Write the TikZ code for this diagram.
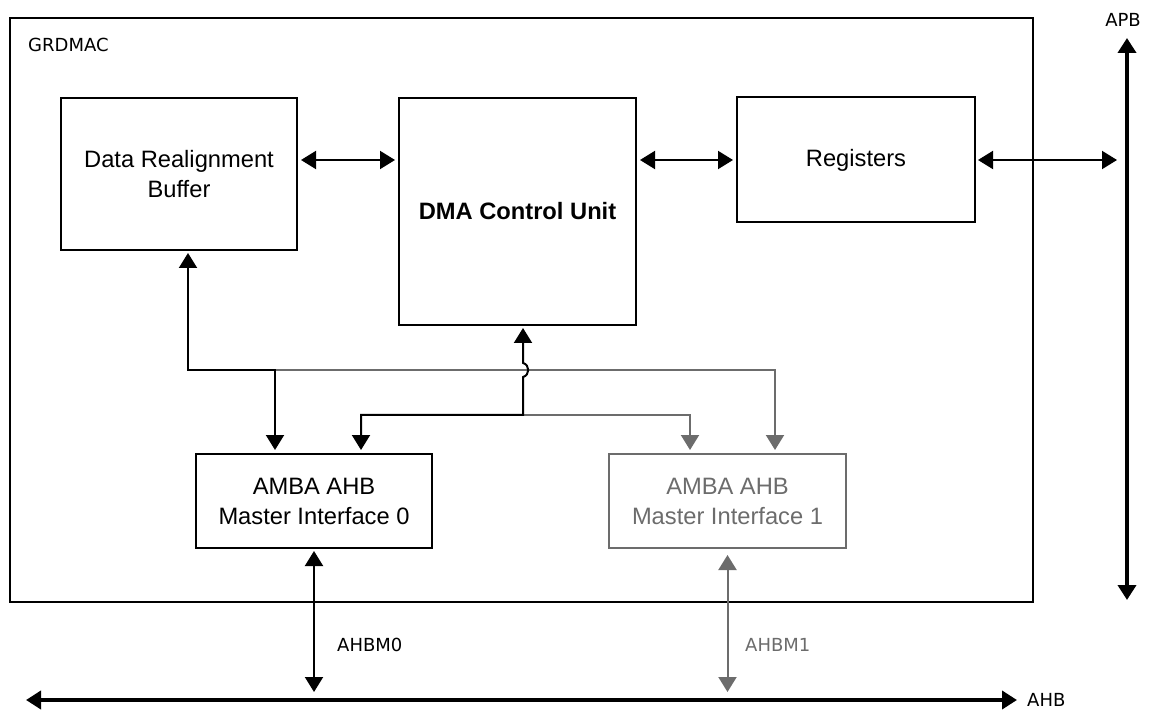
\documentclass[tikz,border=0pt]{standalone}
\usepackage{fontspec}
\setmainfont{Liberation Sans}
\newfontfamily\lblfont{DejaVu Sans}
\usetikzlibrary{arrows.meta}
\definecolor{dimgray}{RGB}{108,108,108}
\tikzset{
  tri/.tip={Triangle[length=15pt,width=18pt]},
  blk/.style={draw=black,line width=2pt,rectangle,align=center,
     font=\fontsize{23.7}{30}\selectfont,inner sep=0pt},
  gblk/.style={blk,draw=dimgray,text=dimgray},
  conn/.style={line width=2pt,draw=black},
  gconn/.style={line width=2pt,draw=dimgray},
  bus/.style={line width=4pt,draw=black},
  lbl/.style={font=\lblfont\fontsize{18}{22}\selectfont,inner sep=0pt}
}
\begin{document}
\begin{tikzpicture}[x=1pt,y=-1pt]
\useasboundingbox (0,0) rectangle (1152,711);
% outer frame
\node[blk,minimum width=1023pt,minimum height=584pt] (grdmac) at (521.5,310) {};
\node[lbl,anchor=west] (grdmaclbl) at (28,45) {GRDMAC};
% blocks
\node[blk,minimum width=236pt,minimum height=152pt] (drb) at (179,174) {Data Realignment\\Buffer};
\node[blk,minimum width=237pt,minimum height=227pt,font=\fontsize{23.7}{30}\selectfont\bfseries] (dma) at (517.5,211.5) {DMA Control Unit};
\node[blk,minimum width=238pt,minimum height=125pt] (reg) at (856,160) {Registers};
\node[blk,minimum width=236pt,minimum height=94pt] (mi0) at (314,501) {AMBA AHB\\Master Interface 0};
\node[gblk,minimum width=237pt,minimum height=94pt] (mi1) at (727.5,501) {AMBA AHB\\Master Interface 1};
% bus coordinates
\coordinate (apbtop) at (1127,38);
\coordinate (apbbot) at (1127,600);
\coordinate (ahbl) at (26,700);
\coordinate (ahbr) at (1017,700);
\coordinate (busy1) at (0,370);
\coordinate (busy2) at (0,415);
\coordinate (hopa) at (0,363);
\coordinate (hopb) at (0,377);
% buses
\draw[bus,{tri}-{tri}] (apbtop) -- (apbbot);
\draw[bus,{tri}-{tri}] (ahbl) -- (ahbr);
\node[lbl] (apblbl) at (1123,20) {APB};
\node[lbl,anchor=west] (ahblbl) at (1027,700) {AHB};
% horizontal links
\draw[conn,{tri}-{tri},shorten <=3pt,shorten >=3pt] (drb.east |- reg.west) -- (dma.west |- reg.west);
\draw[conn,{tri}-{tri},shorten <=3pt,shorten >=3pt] (dma.east |- reg.west) -- (reg.west);
\draw[conn,{tri}-{tri},shorten <=2pt,shorten >=10pt] (reg.east) -- (apbtop |- reg.east);
% AHB master links
\draw[conn,{tri}-{tri},shorten <=2pt,shorten >=8pt] (mi0.south) -- (mi0.south |- ahbl);
\node[lbl,anchor=west] (ahbm0) at (337,645) {AHBM0};
\draw[gconn,dimgray,{tri}-{tri},shorten <=6pt,shorten >=8pt] (mi1.south) -- (mi1.south |- ahbl);
\node[lbl,anchor=west,text=dimgray] (ahbm1) at (745,645) {AHBM1};
% gray internal links
\draw[gconn,dimgray,-{tri},shorten >=3pt] ([xshift=-39pt]mi0.north |- busy1) -| ([xshift=47.5pt]mi1.north);
\draw[gconn,dimgray,-{tri},shorten >=3pt] ([xshift=5.5pt]dma.south |- busy2) -| ([xshift=-37.5pt]mi1.north);
% black internal links
\draw[conn,{tri}-{tri},shorten <=2pt,shorten >=3pt] ([xshift=9pt]drb.south) |- ([xshift=-39pt]mi0.north |- busy1) -- ([xshift=-39pt]mi0.north);
\draw[conn,{tri}-{tri},shorten <=2pt,shorten >=3pt] ([xshift=5.5pt]dma.south) -- ([xshift=5.5pt]dma.south |- hopa)
   .. controls +(7,2) and +(7,-2) .. ([xshift=5.5pt]dma.south |- hopb)
   |- ([xshift=47pt]mi0.north |- busy2) -- ([xshift=47pt]mi0.north);
\end{tikzpicture}
\end{document}
